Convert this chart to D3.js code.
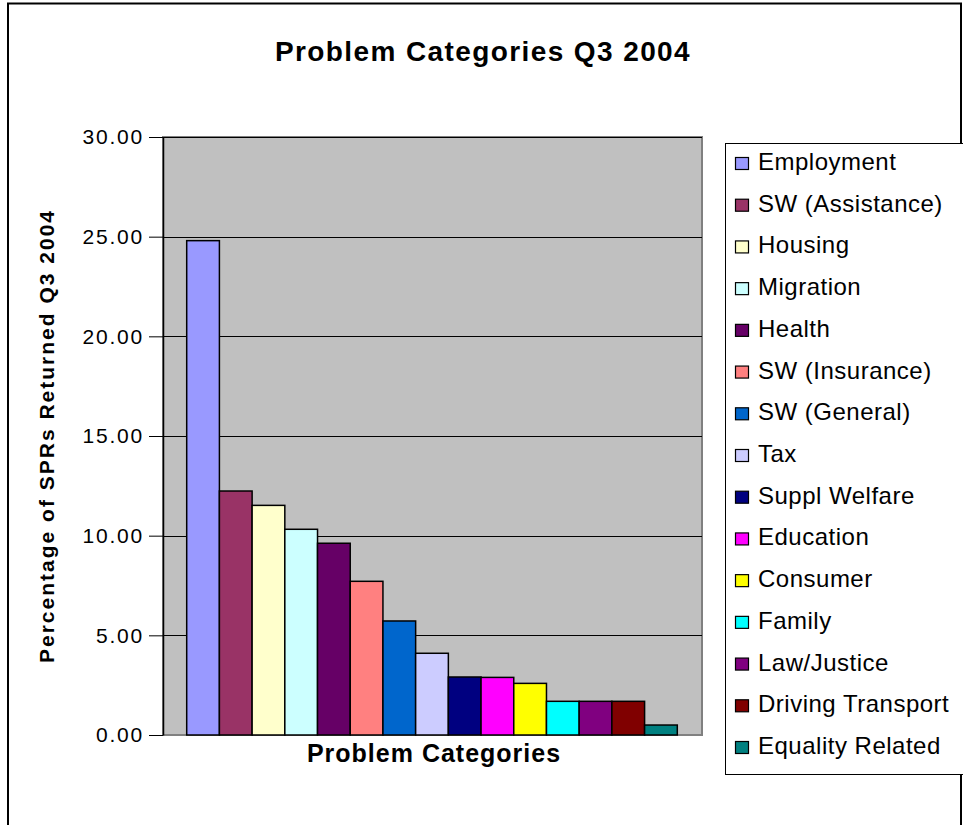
<!DOCTYPE html>
<html>
<head>
<meta charset="utf-8">
<script src="https://cdn.jsdelivr.net/npm/d3@7"></script>
<style>
  body { margin: 0; background: #fff; }
  svg { display: block; font-family: "Liberation Sans", Arial, sans-serif; }
</style>
</head>
<body>
<svg id="chart" width="963" height="825"></svg>
<script>
// data
const categories = ['Employment', 'SW (Assistance)', 'Housing', 'Migration', 'Health',
    'SW (Insurance)', 'SW (General)', 'Tax', 'Suppl Welfare', 'Education',
    'Consumer', 'Family', 'Law/Justice', 'Driving Transport', 'Equality Related'];
const values = [24.80, 12.24, 11.52, 10.32, 9.62, 7.71, 5.72, 4.10, 2.91, 2.89, 2.59, 1.69, 1.69, 1.69, 0.50];
const colors = ['#9999FF', '#993366', '#FFFFCC', '#CCFFFF', '#660066', '#FF8080', '#0066CC',
    '#CCCCFF', '#000080', '#FF00FF', '#FFFF00', '#00FFFF', '#800080', '#800000', '#008080'];
const yTicks = [0, 5, 10, 15, 20, 25, 30];

const svg = d3.select('#chart');

// outer chart border
svg.append('rect')
    .attr('x', 8).attr('y', 3.5)
    .attr('width', 953).attr('height', 830)
    .attr('fill', '#fff').attr('stroke', '#000').attr('stroke-width', 2);

const plot = { left: 163, right: 702, top: 137, bottom: 735 };

const y = d3.scaleLinear().domain([0, 30]).range([plot.bottom, plot.top]);
const x = d3.scaleBand()
    .domain(categories)
    .range([plot.left + 23.7, plot.right - 24.7])
    .padding(0);

// plot area
svg.append('rect')
    .attr('x', plot.left).attr('y', plot.top)
    .attr('width', plot.right - plot.left).attr('height', plot.bottom - plot.top)
    .attr('fill', '#C0C0C0').attr('stroke', '#808080').attr('stroke-width', 2);

// gridlines
svg.append('g')
    .selectAll('line')
    .data(yTicks.filter(d => d > 0))
    .enter()
    .append('line')
    .attr('x1', plot.left).attr('x2', plot.right)
    .attr('y1', d => Math.round(y(d)) + 0.5).attr('y2', d => Math.round(y(d)) + 0.5)
    .attr('stroke', '#000');

// bars
svg.append('g')
    .selectAll('rect')
    .data(categories)
    .enter()
    .append('rect')
    .attr('x', d => x(d))
    .attr('y', (d, i) => y(values[i]))
    .attr('width', x.bandwidth())
    .attr('height', (d, i) => y(0) - y(values[i]))
    .attr('fill', (d, i) => colors[i])
    .attr('stroke', '#000')
    .attr('stroke-width', 1.5);

// y axis
const yAxis = d3.axisLeft(y)
    .tickValues(yTicks)
    .tickFormat(d3.format('.2f'))
    .tickSize(14)
    .tickSizeOuter(0)
    .tickPadding(5);

const yG = svg.append('g')
    .attr('transform', `translate(${plot.left},0)`)
    .call(yAxis);
yG.select('.domain').attr('stroke', '#000').attr('stroke-width', 1.5);
yG.selectAll('.tick line').attr('stroke', '#000');
yG.selectAll('.tick text')
    .attr('font-size', 21)
    .attr('letter-spacing', 1.8)
    .attr('font-family', '"Liberation Sans", Arial, sans-serif')
    .attr('fill', '#000');

// titles
svg.append('text')
    .attr('x', 483).attr('y', 61)
    .attr('text-anchor', 'middle')
    .attr('font-size', 28).attr('font-weight', 'bold')
    .attr('letter-spacing', 1.4)
    .text('Problem Categories Q3 2004');

svg.append('text')
    .attr('x', 434).attr('y', 762)
    .attr('text-anchor', 'middle')
    .attr('font-size', 25).attr('font-weight', 'bold')
    .attr('letter-spacing', 1)
    .text('Problem Categories');

svg.append('text')
    .attr('transform', `translate(54,${(plot.top + plot.bottom) / 2}) rotate(-90)`)
    .attr('text-anchor', 'middle')
    .attr('font-size', 21).attr('font-weight', 'bold')
    .attr('letter-spacing', 2)
    .text('Percentage of SPRs Returned Q3 2004');

// legend
const legend = svg.append('g');
legend.append('rect')
    .attr('x', 725.5).attr('y', 143.5)
    .attr('width', 240).attr('height', 631)
    .attr('fill', '#fff').attr('stroke', '#000');

const ly = d3.scalePoint().domain(categories).range([161, 745]);

const items = legend.selectAll('g.item')
    .data(categories)
    .enter()
    .append('g')
    .attr('class', 'item')
    .attr('transform', d => `translate(0,${ly(d)})`);

items.append('rect')
    .attr('x', 735.5).attr('y', -3.5)
    .attr('width', 13).attr('height', 12)
    .attr('fill', (d, i) => colors[i])
    .attr('stroke', '#000').attr('stroke-width', 1.2);

items.append('text')
    .attr('x', 758).attr('y', 9)
    .attr('font-size', 24)
    .attr('letter-spacing', 0.5)
    .text(d => d);
</script>
</body>
</html>
